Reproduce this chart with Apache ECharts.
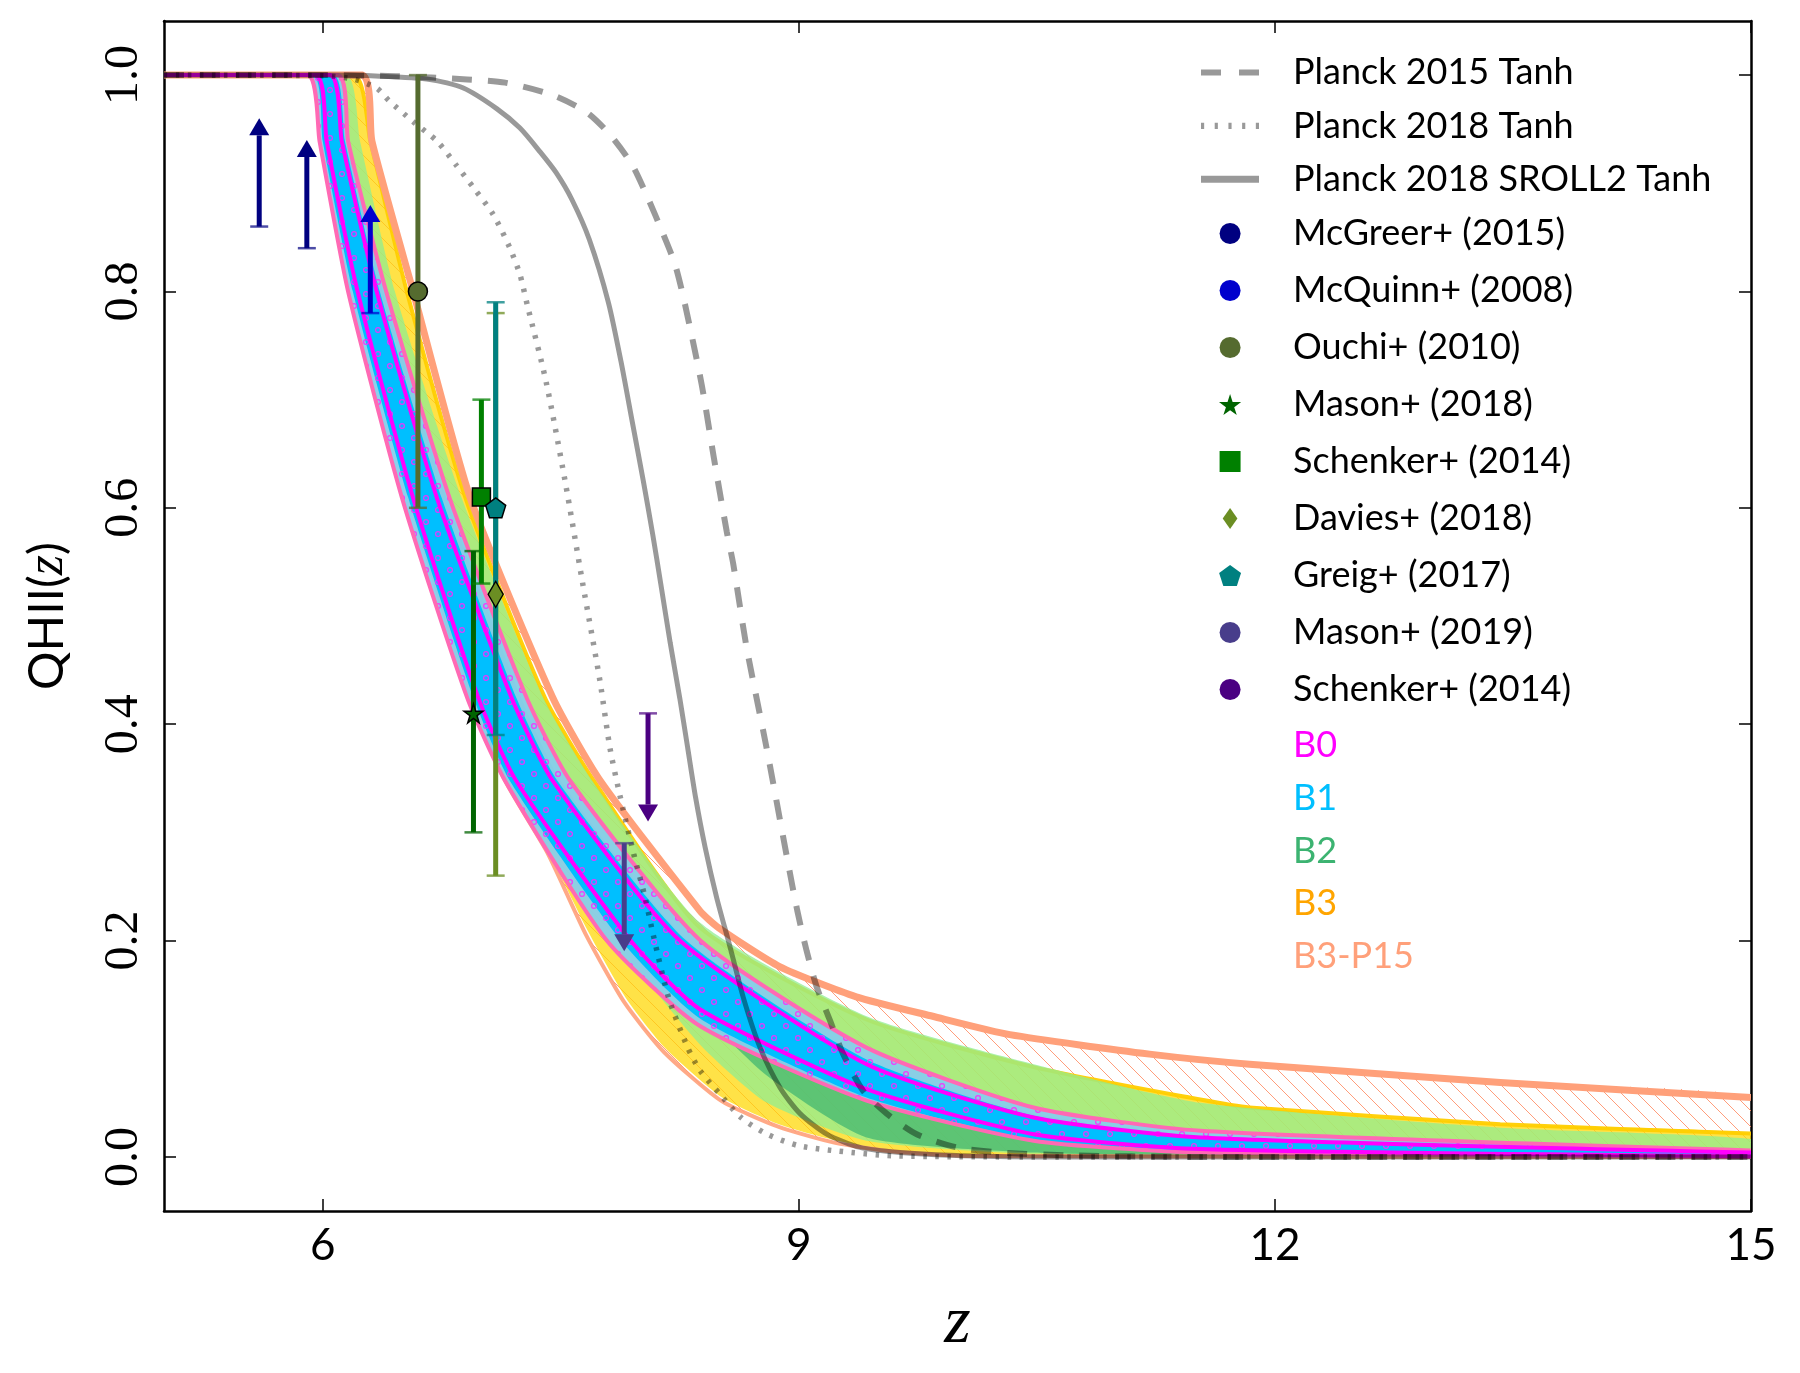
<!DOCTYPE html>
<html>
<head>
<meta charset="utf-8">
<script src="https://cdn.jsdelivr.net/npm/echarts@6/dist/echarts.min.js"></script>
<style>
  html, body { margin: 0; background: #fff; }
  #chart { width: 1800px; height: 1373px; }
</style>
</head>
<body>
<div id="chart"></div>
<script>
// axis ticks
const xTicks = [6, 9, 12, 15];
const yTicks = [0, 0.2, 0.4, 0.6, 0.8, 1.0];

// Planck tanh histories, [z, QHII]
const planck2015 = [[5,1],[6.0,1],[6.46,0.999],[6.91,0.996],[7.15,0.993],[7.44,0.982],[7.66,0.966],[7.81,0.945],[7.95,0.917],[8.05,0.886],[8.14,0.855],[8.22,0.825],[8.28,0.79],[8.388,0.714],[8.465,0.646],[8.546,0.578],[8.587,0.548],[8.671,0.471],[8.797,0.378],[8.924,0.278],[8.99,0.228],[9.05,0.19],[9.113,0.157],[9.197,0.126],[9.28,0.095],[9.406,0.061],[9.554,0.040],[9.743,0.021],[9.995,0.0088],[10.27,0.004],[10.69,0.0015],[11.5,0],[15,0]];
const planck2018 = [[5,1],[6.0,0.9995],[6.2,0.996],[6.34,0.988],[6.42,0.976],[6.57,0.957],[6.72,0.939],[6.84,0.917],[6.95,0.896],[7.075,0.871],[7.18,0.840],[7.243,0.8155],[7.29,0.787],[7.407,0.717],[7.527,0.625],[7.636,0.532],[7.747,0.440],[7.81,0.378],[7.873,0.334],[7.96,0.28],[8.031,0.240],[8.083,0.205],[8.18,0.147],[8.30,0.101],[8.377,0.08],[8.503,0.058],[8.635,0.0365],[8.80,0.021],[9.0,0.0103],[9.24,0.0055],[9.6,0.001],[10.5,0],[15,0]];
const planckSroll2 = [[5,1],[6.0,1],[6.36,0.999],[6.676,0.996],[6.886,0.988],[7.096,0.969],[7.243,0.951],[7.37,0.929],[7.47,0.91],[7.57,0.885],[7.68,0.848],[7.80,0.79],[7.88,0.735],[7.95,0.68],[8.02,0.625],[8.08,0.575],[8.13,0.53],[8.19,0.475],[8.25,0.424],[8.30,0.378],[8.35,0.332],[8.41,0.286],[8.482,0.240],[8.567,0.194],[8.651,0.147],[8.756,0.101],[8.882,0.064],[9.008,0.040],[9.176,0.021],[9.386,0.0088],[9.638,0.004],[9.953,0.0015],[10.5,0],[15,0]];

// B0 limits (outer pink, inner magenta)
const b0OuterLo = [[5,1],[5.91,1],[5.98,0.939],[6.16,0.80],[6.50,0.609],[6.91,0.4245],[7.15,0.3475],[7.79,0.20],[8.377,0.121],[9.427,0.052],[10.48,0.015],[11.53,0.004],[15,0]];
const b0OuterHi = [[5,1],[6.10,1],[6.16,0.939],[6.40,0.80],[6.80,0.609],[7.285,0.4245],[7.56,0.3475],[8.38,0.20],[9.427,0.101],[10.48,0.0457],[11.53,0.0242],[15,0.006]];
const b0InnerLo = [[5,1],[5.96,1],[6.025,0.939],[6.22,0.80],[6.57,0.609],[6.98,0.4245],[7.22,0.3475],[7.94,0.20],[8.377,0.1365],[9.427,0.0626],[10.48,0.021],[11.53,0.0072],[15,0.0005]];
const b0InnerHi = [[5,1],[6.05,1],[6.12,0.939],[6.34,0.80],[6.72,0.609],[7.19,0.4245],[7.45,0.3475],[8.25,0.20],[9.427,0.0857],[10.48,0.0365],[11.53,0.018],[15,0.004]];
// B1 core
const b1CoreLo = [[5,1],[5.94,1],[6.0,0.939],[6.19,0.80],[6.54,0.609],[6.95,0.4245],[7.18,0.3475],[7.88,0.20],[8.377,0.128],[9.427,0.055],[10.48,0.016],[11.53,0.005],[15,0.0003]];
const b1CoreHi = [[5,1],[6.07,1],[6.14,0.939],[6.36,0.80],[6.75,0.609],[7.22,0.4245],[7.48,0.3475],[8.29,0.20],[9.427,0.09],[10.48,0.038],[11.53,0.019],[15,0.0045]];
// B2
const b2Lo = [[5,1],[5.97,1],[6.06,0.939],[6.24,0.80],[6.58,0.609],[6.97,0.4245],[7.2,0.3475],[7.85,0.20],[8.377,0.104],[8.8,0.05],[9.427,0.015],[10.48,0.003],[15,0]];
const b2Hi = [[5,1],[6.15,1],[6.235,0.939],[6.455,0.80],[6.876,0.609],[7.39,0.4245],[7.70,0.3475],[8.377,0.2166],[9.427,0.130],[10.48,0.0857],[11.53,0.050],[13.42,0.027],[15,0.0165]];
const b2CoreLo = [[5,1],[6.0,1],[6.1,0.939],[6.3,0.8],[6.65,0.609],[7.05,0.4245],[7.3,0.3475],[8.0,0.2],[8.377,0.135],[8.8,0.075],[9.427,0.018],[10.48,0.004],[11.53,0.001],[15,0]];
const b2CoreHi = [[5,1],[6.05,1],[6.15,0.939],[6.38,0.8],[6.78,0.609],[7.25,0.4245],[7.5,0.3475],[8.3,0.2],[9.427,0.09],[10.48,0.04],[11.53,0.02],[15,0.006]];
// B3
const b3Lo = [[5,1],[5.95,1],[6.05,0.939],[6.22,0.8],[6.56,0.609],[6.93,0.4245],[7.16,0.3475],[7.43,0.28],[7.67,0.209],[7.91,0.147],[8.156,0.101],[8.517,0.055],[8.879,0.030],[9.24,0.015],[9.60,0.0057],[10.08,0.001],[15,0]];
const b3Hi = [[5,1],[6.2,1],[6.30,0.939],[6.53,0.80],[6.90,0.609],[7.40,0.4245],[7.71,0.3475],[8.377,0.212],[9.427,0.127],[10.48,0.083],[11.53,0.053],[11.84,0.0457],[13.42,0.0303],[15,0.0217]];
// B3-P15
const p15Lo = [[5,1],[5.94,1],[6.04,0.939],[6.21,0.8],[6.55,0.609],[6.93,0.4245],[7.15,0.3475],[7.42,0.28],[7.66,0.205],[7.9,0.143],[8.15,0.097],[8.51,0.052],[8.87,0.028],[9.23,0.013],[9.6,0.005],[10.08,0.0008],[15,0]];
const p15Hi = [[5,1],[6.25,1],[6.31,0.939],[6.57,0.80],[6.93,0.609],[7.45,0.4245],[7.75,0.3475],[8.377,0.2274],[8.493,0.212],[8.879,0.176],[9.362,0.148],[9.844,0.130],[10.33,0.113],[11.21,0.095],[11.84,0.0857],[13.42,0.0688],[15,0.055]];

// observational constraints
const mcgreerZ = [5.6, 5.9];
const mcgreerLim = [0.86, 0.84];
const mcquinnZ = [6.3];
const mcquinnLim = [0.78];
const ouchiZ = [6.6], ouchiQ = [0.8], ouchiLo = [0.6], ouchiHi = [1.0];
const mason18Z = [6.95], mason18Q = [0.41], mason18Lo = [0.30], mason18Hi = [0.56];
const schenkerZ = [7.0], schenkerQ = [0.61], schenkerLo = [0.53], schenkerHi = [0.70];
const daviesZ = [7.09], daviesQ = [0.52], daviesLo = [0.26], daviesHi = [0.78];
const greigZ = [7.09], greigQ = [0.60], greigLo = [0.39], greigHi = [0.79];
const mason19Z = [7.9];
const mason19Lim = [0.29];
const schenkerUlZ = [8.05];
const schenkerUlLim = [0.41];
const arrowLen = 0.1;

const legendLabels = { 'Schenker+ (2014) UL': 'Schenker+ (2014)' };

const SANS = 'Lato';
const SERIF = 'Liberation Serif';
const GREY = 'rgba(0,0,0,0.4)';

// hatch patterns
function hatchLines() {
  const c = document.createElement('canvas');
  c.width = 16; c.height = 16;
  const g = c.getContext('2d');
  g.strokeStyle = 'rgba(255,140,100,0.85)';
  g.lineWidth = 1;
  for (const k of [-16, 0, 16]) {
    g.beginPath(); g.moveTo(k, 0); g.lineTo(k + 16, 16); g.stroke();
  }
  return c;
}
function hatchCircles() {
  const c = document.createElement('canvas');
  c.width = 24; c.height = 24;
  const g = c.getContext('2d');
  g.strokeStyle = 'rgba(255,40,255,0.9)';
  g.lineWidth = 1.2;
  for (const [x, y] of [[6, 6], [18, 18]]) {
    g.beginPath(); g.arc(x, y, 2.4, 0, Math.PI * 2); g.stroke();
  }
  return c;
}
const lineHatch = { image: hatchLines(), repeat: 'repeat' };
const dotHatch = { image: hatchCircles(), repeat: 'repeat' };

const SM = 0.2;
function px(arr, api) { return arr.map(p => api.coord(p)); }
function frame(api) {
  const a = api.coord([5, 1]), b = api.coord([15, 0]);
  return [[a[0], a[1]], [b[0], b[1]]];
}
function area(lo, hi, fill, api) {
  return {
    type: 'polygon',
    shape: { points: px(hi, api).concat(px(lo, api).reverse()), smooth: SM, smoothConstraint: frame(api) },
    style: { fill: fill, stroke: 'none' }
  };
}
function curve(arr, color, width, api) {
  return {
    type: 'polyline',
    shape: { points: px(arr, api), smooth: SM, smoothConstraint: frame(api) },
    style: { stroke: color, lineWidth: width, fill: 'none' }
  };
}
function bandSeries(name, build) {
  return {
    name: name, type: 'custom', coordinateSystem: 'cartesian2d', clip: true, silent: true,
    data: [[5, 1]],
    renderItem: (params, api) => ({ type: 'group', children: build(api) })
  };
}

function errSeries(name, zs, qs, los, his, color) {
  return {
    name: name + ' bar', type: 'custom', clip: true, silent: true, z: 4,
    data: zs.map((z, i) => [z, qs[i], los[i], his[i]]),
    renderItem: (params, api) => {
      const z = api.value(0);
      const a = api.coord([z, api.value(2)]), b = api.coord([z, api.value(3)]);
      return { type: 'group', children: [
        { type: 'line', shape: { x1: a[0], y1: a[1], x2: b[0], y2: b[1] }, style: { stroke: color, lineWidth: 5 } },
        { type: 'line', shape: { x1: a[0] - 9, y1: a[1], x2: a[0] + 9, y2: a[1] }, style: { stroke: color, lineWidth: 2.5, opacity: 0.75 } },
        { type: 'line', shape: { x1: b[0] - 9, y1: b[1], x2: b[0] + 9, y2: b[1] }, style: { stroke: color, lineWidth: 2.5, opacity: 0.75 } }
      ] };
    }
  };
}
function limitSeries(name, zs, lims, dir, color) {
  return {
    name: name, type: 'custom', clip: true, silent: true, z: 4,
    itemStyle: { color: color },
    data: zs.map((z, i) => [z, lims[i]]),
    renderItem: (params, api) => {
      const z = api.value(0), v = api.value(1);
      const base = api.coord([z, v]), tip = api.coord([z, v + dir * arrowLen]);
      const hb = tip[1] + dir * 17;
      return { type: 'group', children: [
        { type: 'line', shape: { x1: base[0], y1: base[1], x2: tip[0], y2: hb }, style: { stroke: color, lineWidth: 5 } },
        { type: 'polygon', shape: { points: [[tip[0], tip[1]], [tip[0] - 10, hb], [tip[0] + 10, hb]] }, style: { fill: color } },
        { type: 'line', shape: { x1: base[0] - 9, y1: base[1], x2: base[0] + 9, y2: base[1] }, style: { stroke: color, lineWidth: 2.5, opacity: 0.7 } }
      ] };
    }
  };
}
function markerSeries(name, zs, qs, symbol, size, color) {
  return {
    name: name, type: 'scatter', z: 6, symbol: symbol, symbolSize: size, symbolKeepAspect: false,
    itemStyle: { color: color, borderColor: '#000', borderWidth: 1.5, opacity: 1 },
    data: zs.map((z, i) => [z, qs[i]])
  };
}

const STAR = 'path://M50,0L61,35L98,35L68,57L79,91L50,70L21,91L32,57L2,35L39,35Z';
const PENTA = 'path://M50,0L97,34L79,90L21,90L3,34Z';
const SQUARE = 'path://M0,0L10,0L10,10L0,10Z';
const DIAMOND = 'path://M50,0L100,50L50,100L0,50Z';
const DOT = 'circle';
const ICON_DASH = 'path://M0,0H20V6H0Z M38,0H58V6H38Z';
const ICON_DOTS = 'path://M0,0h3v6h-3z M13,0h3v6h-3z M26,0h3v6h-3z M39,0h3v6h-3z M52,0h3v6h-3z';
const ICON_SOLID = 'path://M0,0H58V7H0Z';

const planckLine = (name, data, type, width) => ({
  name: name, type: 'line', data: data, symbol: 'none', smooth: 0.25, z: 3, silent: true,
  itemStyle: { color: GREY },
  lineStyle: { color: GREY, width: width, type: type }
});

const axisCommon = {
  type: 'value', min: 5, max: 15,
  axisLine: { show: true, onZero: false, lineStyle: { color: '#000', width: 2.5 } },
  axisTick: { show: true, inside: true, length: 12, customValues: xTicks, lineStyle: { color: '#000', width: 1.5 } },
  splitLine: { show: false }
};
const yCommon = {
  type: 'value', min: -0.05, max: 1.05,
  axisLine: { show: true, onZero: false, lineStyle: { color: '#000', width: 2.5 } },
  axisTick: { show: true, inside: true, length: 12, customValues: yTicks, lineStyle: { color: '#000', width: 1.5 } },
  splitLine: { show: false }
};

const legendBase = (left, top, gap, data) => ({
  orient: 'vertical', left: left, top: top, itemWidth: 58, itemHeight: 21, itemGap: gap,
  selectedMode: false, symbolKeepAspect: true,
  itemStyle: { borderWidth: 0 },
  textStyle: { fontFamily: SANS, fontSize: 36, lineHeight: 42, color: '#000', padding: [0, 0, 0, 29] },
  formatter: n => legendLabels[n] || n,
  data: data
});

const chart = echarts.init(document.getElementById('chart'), null, { renderer: 'canvas' });
chart.setOption({
  animation: false,
  backgroundColor: '#fff',
  grid: { left: 164, right: 49, top: 21, bottom: 162 },
  xAxis: [
    Object.assign({}, axisCommon, {
      position: 'bottom',
      axisLabel: { customValues: xTicks, fontFamily: SANS, fontSize: 44, color: '#000', margin: 13 },
      name: 'z', nameLocation: 'middle', nameGap: 79,
      nameTextStyle: { fontFamily: SERIF, fontStyle: 'italic', fontSize: 68, color: '#000' }
    }),
    Object.assign({}, axisCommon, { position: 'top', axisLabel: { show: false } })
  ],
  yAxis: [
    Object.assign({}, yCommon, {
      position: 'left',
      axisLabel: { customValues: yTicks, rotate: 90, fontFamily: SERIF, fontSize: 48, color: '#000', margin: 16,
        formatter: v => v.toFixed(1) },
      name: '{a|QHII(}{b|z}{a|)}', nameLocation: 'middle', nameGap: 90, nameRotate: 90,
      nameTextStyle: { rich: {
        a: { fontFamily: SANS, fontSize: 48, color: '#000' },
        b: { fontFamily: SERIF, fontStyle: 'italic', fontSize: 52, color: '#000' }
      } }
    }),
    Object.assign({}, yCommon, { position: 'right', axisLabel: { show: false } })
  ],
  legend: [
    legendBase(1196, 46.5, 11.4, [
      { name: 'Planck 2015 Tanh', icon: ICON_DASH, itemStyle: { color: GREY } },
      { name: 'Planck 2018 Tanh', icon: ICON_DOTS, itemStyle: { color: GREY } },
      { name: 'Planck 2018 SROLL2 Tanh', icon: ICON_SOLID, itemStyle: { color: GREY } }
    ]),
    legendBase(1214, 207.5, 15, [
      { name: 'McGreer+ (2015)', icon: DOT, itemStyle: { color: '#000080' } },
      { name: 'McQuinn+ (2008)', icon: DOT, itemStyle: { color: '#0000CD' } },
      { name: 'Ouchi+ (2010)', icon: DOT },
      { name: 'Mason+ (2018)', icon: STAR },
      { name: 'Schenker+ (2014)', icon: SQUARE },
      { name: 'Davies+ (2018)', icon: 'path://M50,0L85,50L50,100L15,50Z' },
      { name: 'Greig+ (2017)', icon: PENTA },
      { name: 'Mason+ (2019)', icon: DOT, itemStyle: { color: '#483D8B' } },
      { name: 'Schenker+ (2014) UL', icon: DOT, itemStyle: { color: '#4B0082' } }
    ]),
    legendBase(1196, 719.5, 10.75, [
      { name: 'B0', icon: 'none', textStyle: { color: '#FF00FF' } },
      { name: 'B1', icon: 'none', textStyle: { color: '#00BFFF' } },
      { name: 'B2', icon: 'none', textStyle: { color: '#3CB371' } },
      { name: 'B3', icon: 'none', textStyle: { color: '#FFA500' } },
      { name: 'B3-P15', icon: 'none', textStyle: { color: '#FFA07A' } }
    ])
  ],
  series: [
    bandSeries('B3-P15', api => [area(p15Lo, p15Hi, lineHatch, api)]),
    bandSeries('B3', api => [
      area(b3Lo, b3Hi, 'rgba(255,215,0,0.72)', api),
      curve(b3Hi, 'rgba(255,205,0,0.95)', 4, api)
    ]),
    bandSeries('B2', api => [
      area(b2Lo, b2Hi, 'rgba(144,238,144,0.75)', api),
      area(b2CoreLo, b2CoreHi, 'rgba(60,179,113,0.7)', api)
    ]),
    bandSeries('B3 edge', api => [
      curve(p15Lo, 'rgba(255,160,122,0.9)', 4, api),
      curve(p15Hi, '#FFA07A', 7, api)
    ]),
    bandSeries('B1', api => [
      area(b0OuterLo, b0OuterHi, 'rgba(135,206,235,0.95)', api),
      area(b1CoreLo, b1CoreHi, '#00BFFF', api)
    ]),
    bandSeries('B0', api => [
      area(b0OuterLo, b0OuterHi, dotHatch, api),
      curve(b0OuterLo, '#FF69B4', 4, api),
      curve(b0OuterHi, '#FF69B4', 4, api),
      curve(b0InnerLo, '#FF00FF', 4, api),
      curve(b0InnerHi, '#FF00FF', 4, api)
    ]),
    planckLine('Planck 2015 Tanh', planck2015, [20, 16], 6),
    planckLine('Planck 2018 Tanh', planck2018, [3.5, 8.5], 5.5),
    planckLine('Planck 2018 SROLL2 Tanh', planckSroll2, 'solid', 5),
    limitSeries('McGreer+ (2015)', mcgreerZ, mcgreerLim, 1, '#000080'),
    limitSeries('McQuinn+ (2008)', mcquinnZ, mcquinnLim, 1, '#0000CD'),
    limitSeries('Mason+ (2019)', mason19Z, mason19Lim, -1, '#483D8B'),
    limitSeries('Schenker+ (2014) UL', schenkerUlZ, schenkerUlLim, -1, '#4B0082'),
    errSeries('Ouchi', ouchiZ, ouchiQ, ouchiLo, ouchiHi, '#556B2F'),
    errSeries('Mason18', mason18Z, mason18Q, mason18Lo, mason18Hi, '#006400'),
    errSeries('Schenker', schenkerZ, schenkerQ, schenkerLo, schenkerHi, '#008000'),
    errSeries('Davies', daviesZ, daviesQ, daviesLo, daviesHi, '#6B8E23'),
    errSeries('Greig', greigZ, greigQ, greigLo, greigHi, '#008080'),
    markerSeries('Ouchi+ (2010)', ouchiZ, ouchiQ, DOT, 19, '#556B2F'),
    markerSeries('Mason+ (2018)', mason18Z, mason18Q, STAR, 19, '#006400'),
    markerSeries('Schenker+ (2014)', schenkerZ, schenkerQ, SQUARE, 18, '#008000'),
    markerSeries('Davies+ (2018)', daviesZ, daviesQ, DIAMOND, [15, 26], '#6B8E23'),
    markerSeries('Greig+ (2017)', greigZ, greigQ, PENTA, 20, '#008080')
  ]
});
</script>
</body>
</html>
